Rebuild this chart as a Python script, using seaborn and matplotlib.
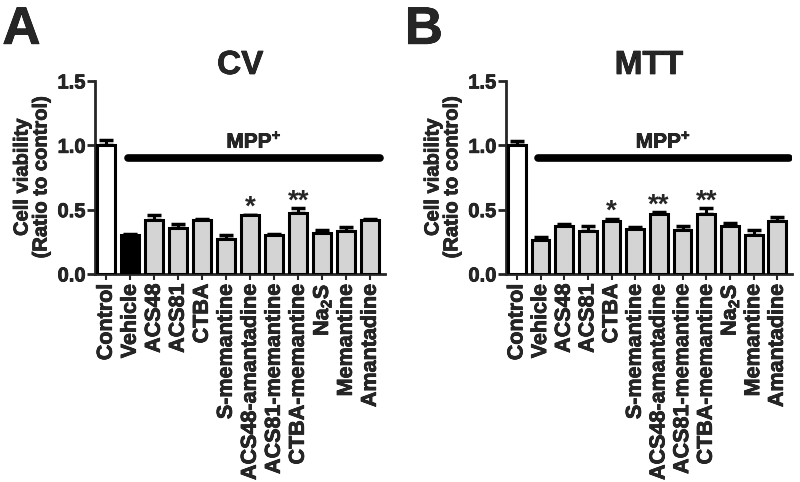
import matplotlib
matplotlib.use("Agg")
import matplotlib.pyplot as plt
import matplotlib.patheffects as pe
import seaborn as sns
import pandas as pd

# data
treatments = ["Control", "Vehicle", "ACS48", "ACS81", "CTBA", "S-memantine",
              "ACS48-amantadine", "ACS81-memantine", "CTBA-memantine",
              "Na$_2$S", "Memantine", "Amantadine"]

cv_mean = [1.00, 0.30, 0.42, 0.355, 0.42, 0.27, 0.455, 0.30, 0.475, 0.315, 0.335, 0.42]
cv_err = [0.04, 0.01, 0.04, 0.03, 0.01, 0.03, 0.005, 0.01, 0.035, 0.025, 0.03, 0.01]
cv_stars = {6: "*", 8: "**"}

mtt_mean = [1.00, 0.265, 0.375, 0.335, 0.41, 0.35, 0.465, 0.345, 0.465, 0.37, 0.30, 0.415]
mtt_err = [0.035, 0.025, 0.015, 0.035, 0.02, 0.015, 0.015, 0.03, 0.045, 0.03, 0.04, 0.03]
mtt_stars = {4: "*", 6: "**", 8: "**"}

GRAY = "#d4d4d4"
cv_colors = ["white", "black"] + [GRAY] * 10
mtt_colors = ["white"] + [GRAY] * 11

sns.set_style("ticks")
plt.rcParams["font.family"] = ["Liberation Sans", "DejaVu Sans"]
plt.rcParams["font.weight"] = "bold"
plt.rcParams["mathtext.fontset"] = "custom"
plt.rcParams["mathtext.rm"] = "Liberation Sans:bold"
plt.rcParams["mathtext.bf"] = "Liberation Sans:bold"
plt.rcParams["mathtext.default"] = "bf"

# the reference text is heavier than plain bold, thicken it a little
heavy = [pe.withStroke(linewidth=0.5, foreground="black")]

fig = plt.figure(figsize=(8, 4.82), dpi=100)
ax_a = fig.add_axes([0.119, 0.4315, 0.3625, 0.4005])
ax_b = fig.add_axes([0.6325, 0.4315, 0.3575, 0.4005])


def draw_panel(ax, means, errs, colors, stars, title, line_x):
    df = pd.DataFrame({"treatment": treatments, "value": means})
    sns.barplot(data=df, x="treatment", y="value", hue="treatment",
                palette=colors, legend=False, edgecolor="black", linewidth=2.2,
                width=0.75, errorbar=None, ax=ax, zorder=3)
    xs = list(range(len(treatments)))
    ax.errorbar(xs, means, yerr=[[0] * len(errs), errs], fmt="none",
                ecolor="black", elinewidth=2.2, capsize=5, capthick=2.5, zorder=2)
    for i, s in stars.items():
        ax.text(i, means[i] + errs[i] + 0.0, s, ha="center", va="baseline",
                fontsize=20, fontweight="bold")
    ax.plot(line_x, [0.9, 0.9], color="black", lw=5.5, solid_capstyle="round")
    ax.text(sum(line_x) / 2, 0.98, r"MPP$^{+}$", ha="center", va="baseline",
            fontsize=15, fontweight="bold", path_effects=heavy)

    ax.set_ylim(0, 1.5)
    ax.set_xlim(-0.46, 11.62)
    ax.set_yticks([0.0, 0.5, 1.0, 1.5])
    ax.set_yticklabels(["0.0", "0.5", "1.0", "1.5"], fontsize=14.5, fontweight="bold")
    ax.set_xticks(xs)
    ax.set_xticklabels(treatments, rotation=90, fontsize=15.5, fontweight="bold")
    ax.set_xlabel("")
    ax.set_ylabel("Cell viability\n(Ratio to control)", fontsize=14.5,
                  fontweight="bold", labelpad=5, linespacing=1.0)
    ax.set_title(title, fontsize=24, fontweight="bold", pad=4)
    sns.despine(ax=ax)
    for side in ["left", "bottom"]:
        ax.spines[side].set_linewidth(2)
    ax.tick_params(axis="y", width=2, length=6, pad=1)
    ax.tick_params(axis="x", width=1.5, length=4, pad=3)
    for t in ax.get_xticklabels() + ax.get_yticklabels() + [ax.yaxis.label, ax.title]:
        t.set_path_effects(heavy)


draw_panel(ax_a, cv_mean, cv_err, cv_colors, cv_stars, "CV", [0.92, 11.4])
draw_panel(ax_b, mtt_mean, mtt_err, mtt_colors, mtt_stars, "MTT", [0.88, 11.5])

fig.text(0.003, 0.99, "A", fontsize=38, fontweight="bold", va="top", ha="left",
         path_effects=heavy)
fig.text(0.506, 0.99, "B", fontsize=38, fontweight="bold", va="top", ha="left",
         path_effects=heavy)

fig.savefig("out.png", dpi=100)
